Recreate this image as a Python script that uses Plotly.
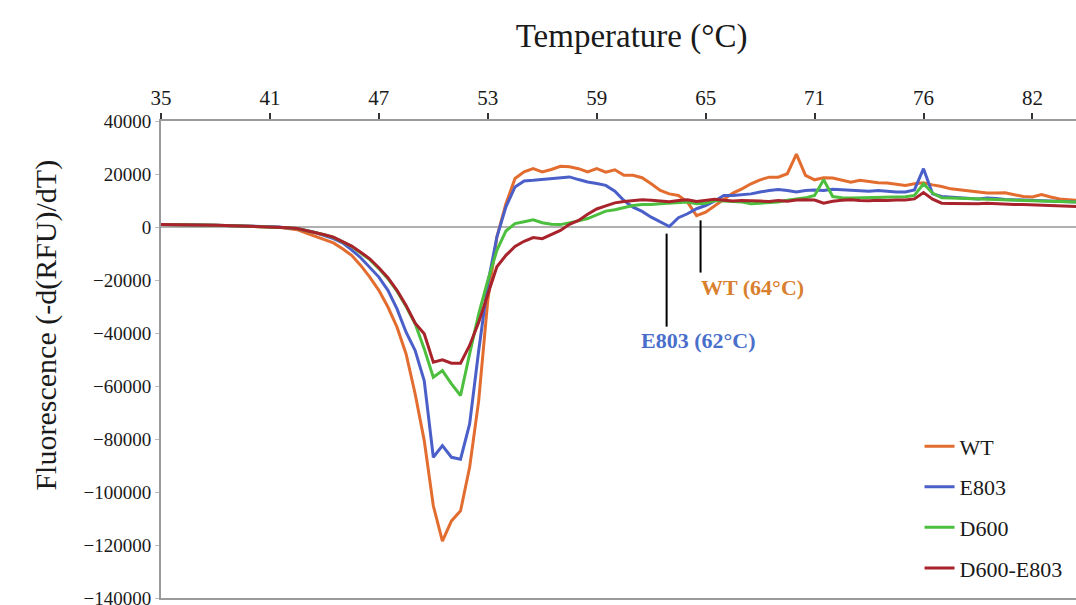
import numpy as np
import plotly.graph_objects as go

# melt curve, -d(RFU)/dT, readings every 0.5 degC
temps = np.arange(35, 85.6, 0.5)

wt = [900, 900, 850, 800, 800, 750, 700, 600, 500, 400,
      300, 200, 100, -100, -600, -1000, -2300, -3500, -4800, -6000,
      -8200, -10700, -14500, -18900, -23900, -30200, -37800, -47900, -63000, -80600,
      -105200, -118500, -110900, -107100, -90700, -65500, -27700, -3800, 8800, 18300,
      20800, 22000, 20800, 21700, 22900, 22700, 22000, 20800, 22000, 20700,
      21600, 19500, 19500, 18600, 16300, 13800, 12500, 11900, 9400, 4300,
      5600, 8100, 10300, 12800, 14400, 16300, 17800, 18800, 18800, 20100,
      27500, 19500, 17800, 18600, 18500, 17800, 16900, 17600, 17200, 16700,
      16600, 16100, 15700, 16300, 16700, 15900, 15300, 14400, 14000, 13800,
      13200, 12800, 12800, 12900, 12200, 11500, 11300, 12200, 11300, 10600,
      10300, 10000]

e803 = [900, 900, 850, 800, 800, 750, 700, 600, 500, 400,
        300, 200, 100, 0, -400, -600, -1300, -2100, -3200, -4400,
        -6000, -8600, -11600, -15100, -18900, -23900, -30900, -39700, -46600, -58000,
        -86900, -82500, -86900, -87600, -74300, -46600, -21400, -3800, 7600, 15100,
        17400, 17600, 17900, 18300, 18600, 18900, 17900, 17000, 16400, 15700,
        13500, 10000, 7500, 5900, 3700, 1800, 200, 3500, 5000, 6900,
        8100, 9800, 11900, 11900, 12300, 12500, 13200, 13800, 14100, 13800,
        13200, 13800, 14000, 13800, 14200, 14000, 13800, 13500, 13500, 13800,
        13400, 13200, 13200, 14000, 22000, 12500, 11500, 11300, 11000, 10900,
        10600, 10900, 10800, 10400, 10300, 10000, 10000, 9800, 9800, 9600,
        9500, 9400]

d600 = [900, 900, 850, 800, 800, 750, 700, 600, 500, 400,
        300, 200, 100, 0, -300, -600, -1300, -2000, -2900, -3900,
        -5700, -7300, -9800, -12300, -15700, -19500, -24200, -30000, -36500, -46000,
        -56700, -54200, -59200, -63600, -47900, -32800, -20200, -8800, -1500, 1300,
        2000, 2700, 1600, 1000, 900, 1500, 2300, 3200, 4600, 6000,
        6500, 7200, 8100, 8500, 8500, 8800, 9000, 9300, 9400, 8800,
        9000, 10000, 9800, 9400, 9400, 8800, 9000, 9300, 9400, 10100,
        10600, 11000, 11900, 17800, 11500, 11000, 10900, 11000, 11000, 11200,
        11300, 11300, 11400, 11900, 16300, 12800, 11000, 10900, 10800, 10600,
        10500, 10400, 10300, 10100, 10000, 9900, 9800, 9800, 9600, 9500,
        9500, 9400]

d600_e803 = [900, 900, 850, 800, 800, 750, 700, 600, 500, 400,
             300, 200, 100, 0, -300, -600, -1300, -2000, -2900, -3800,
             -5400, -7200, -9500, -12000, -15400, -19100, -23900, -29600, -36300, -40300,
             -51000, -50100, -51400, -51400, -44700, -35900, -25500, -15000, -10700, -7300,
             -5400, -4000, -4400, -2900, -1300, 1000, 2500, 4800, 6800, 8000,
             9100, 9600, 10000, 10300, 10100, 9800, 9500, 10000, 10300, 9600,
             10000, 10500, 10100, 9800, 10000, 10000, 9800, 9600, 10000, 9700,
             10200, 10300, 10200, 9000, 9700, 10100, 10300, 10000, 9900, 10100,
             10000, 10200, 10200, 10600, 13000, 10500, 9000, 8900, 8800, 8800,
             8800, 9000, 8800, 8700, 8500, 8500, 8400, 8300, 8100, 8000,
             7800, 7700]

tick_pos = [35, 41, 47, 53, 59, 65, 71, 77, 83]
tick_text = ["35", "41", "47", "53", "59", "65", "71", "76", "82"]

series = [("WT", wt, "#E36C2F"),
          ("E803", e803, "#4B5FC9"),
          ("D600", d600, "#4DBF3F"),
          ("D600-E803", d600_e803, "#A8232B")]

serif = "Liberation Serif"

fig = go.Figure()
for name, vals, col in series:
    fig.add_trace(go.Scatter(x=temps, y=vals, mode="lines", name=name,
                             legendgroup=name,
                             line=dict(color=col, width=3)))

# Tm markers
fig.add_shape(type="line", x0=62.85, x1=62.85, y0=-2500, y1=-37600,
              line=dict(color="black", width=2))
fig.add_shape(type="line", x0=64.72, x1=64.72, y0=2500, y1=-17200,
              line=dict(color="black", width=2))
fig.add_annotation(x=64.6, y=-42900, text="<b>E803 (62°C)</b>", showarrow=False,
                   font=dict(family=serif, size=22, color="#4A6FCB"))
fig.add_annotation(x=67.6, y=-22900, text="<b>WT (64°C)</b>", showarrow=False,
                   font=dict(family=serif, size=22, color="#D9802F"))

fig.add_annotation(xref="paper", yref="paper", x=-0.146, y=0.572,
                   text="Fluorescence (-d(RFU)/dT)", textangle=-90, showarrow=False,
                   font=dict(family=serif, size=30, color="#1a1a1a"))

fig.update_layout(
    width=1076, height=605,
    margin=dict(l=161, r=0, t=121, b=7),
    plot_bgcolor="white", paper_bgcolor="white",
    title=dict(text="Temperature (°C)", xref="container", x=0.587, xanchor="center",
               y=0.942, yanchor="middle",
               font=dict(family=serif, size=33, color="#1a1a1a")),
    legend=dict(x=0.829, y=0.362, xanchor="left", yanchor="top",
                traceorder="grouped", tracegroupgap=9,
                font=dict(family=serif, size=22, color="#1a1a1a"),
                bgcolor="rgba(0,0,0,0)"),
    xaxis=dict(side="top", range=[35, 85.4], tickvals=tick_pos, ticktext=tick_text,
               automargin=False,
               showgrid=False, zeroline=False, showline=True, mirror=True,
               linecolor="#9a9a9a", linewidth=2, ticks="outside", ticklen=6,
               tickcolor="#333", tickwidth=2,
               tickfont=dict(family=serif, size=21, color="#1a1a1a")),
    yaxis=dict(range=[-140000, 40000], dtick=20000, tickformat="d",
               automargin=False,
               showgrid=False, zeroline=True, zerolinecolor="#b0b0b0", zerolinewidth=1.5,
               showline=True, linecolor="#9a9a9a", linewidth=2,
               ticks="outside", ticklen=4, tickcolor="#bbb",
               ticklabeloverflow="allow",
               tickfont=dict(family=serif, size=19, color="#1a1a1a")),
)

# drop the default 8px body margin so the figure fills the window exactly
fig.write_html("out.html", config={"displayModeBar": False},
               post_script="document.body.style.margin='0';document.body.style.overflow='hidden';")
